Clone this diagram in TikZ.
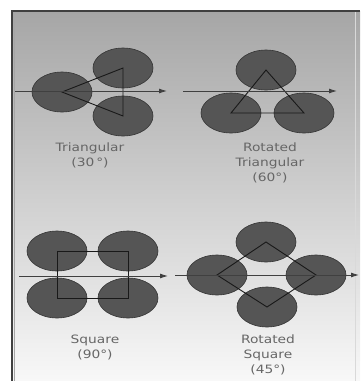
\documentclass[tikz,border=0pt]{standalone}
\usepackage{fontspec}
\newfontfamily\lblfont[FakeStretch=1.2]{DejaVu Sans}
\usetikzlibrary{shapes.geometric,arrows.meta}
\definecolor{blobfill}{HTML}{555555}
\definecolor{blobline}{HTML}{333333}
\definecolor{txt}{HTML}{666666}
\tikzset{
  blob/.style={ellipse,draw=blobline,fill=blobfill,line width=0.6pt,minimum width=60pt,minimum height=40pt,inner sep=0pt},
  geom/.style={draw=black!90,line width=0.9pt,line join=miter},
  axis/.style={draw=black!75,line width=0.9pt,-{Latex[length=8pt,width=5pt]}},
  lbl/.style={text=txt,align=center,font=\lblfont\fontsize{11.5}{15}\selectfont,inner sep=0pt}
}
\begin{document}
\begin{tikzpicture}[x=1pt,y=-1pt]
\useasboundingbox (0,0) rectangle (360,381);
\fill[white] (0,0) rectangle (360,381);
\shade[top color={rgb,255:red,166;green,166;blue,166},bottom color={rgb,255:red,248;green,248;blue,248}] (12,11) rectangle (360,381);
\draw[black!75,line width=1.5pt] (12,381) -- (12,11) -- (360,11);
\draw[black!35,line width=0.6pt] (14.5,381) -- (14.5,13);
\draw[white!85!black,line width=0.8pt] (355,12) -- (355,381);
% top-left: triangular 30
\node[blob] (a1) at (62,92) {};
\node[blob] (a2) at (123,68) {};
\node[blob] (a3) at (123,116) {};
\draw[geom] (a1.center) -- (a2.center) -- (a3.center) -- cycle;
\coordinate (as) at (15,91); \coordinate (ae) at (167,91);
\draw[axis] (as) -- (ae);
\node[lbl] (at) at (90,155.5) {Triangular\\(30\,°)};
% top-right: rotated triangular 60
\node[blob] (b1) at (266,70) {};
\node[blob] (b2) at (231,113) {};
\node[blob] (b3) at (304,113) {};
\draw[geom] (b1.center) -- (b2.center) -- (b3.center) -- cycle;
\coordinate (bs) at (183,91); \coordinate (be) at (337,91);
\draw[axis] (bs) -- (be);
\node[lbl] (bt) at (270,162.5) {Rotated\\Triangular\\(60°)};
% bottom-left: square 90
\node[blob] (c1) at (57,251) {};
\node[blob] (c2) at (128,251) {};
\node[blob] (c3) at (57,298) {};
\node[blob] (c4) at (128,298) {};
\draw[geom] (c1.center) -- (c2.center) -- (c4.center) -- (c3.center) -- cycle;
\coordinate (cs) at (19,276); \coordinate (ce) at (168,276);
\draw[axis] (cs) -- (ce);
\node[lbl] (ct) at (95,347.5) {Square\\(90°)};
% bottom-right: rotated square 45
\node[blob] (d1) at (266,242) {};
\node[blob] (d2) at (217,275) {};
\node[blob] (d3) at (316,275) {};
\node[blob] (d4) at (267,307) {};
\draw[geom] (d1.center) -- (d3.center) -- (d4.center) -- (d2.center) -- cycle;
\coordinate (ds) at (175,275); \coordinate (de) at (359,275);
\draw[axis] (ds) -- (de);
\node[lbl] (dt) at (268,354.5) {Rotated\\Square\\(45°)};
\end{tikzpicture}
\end{document}
